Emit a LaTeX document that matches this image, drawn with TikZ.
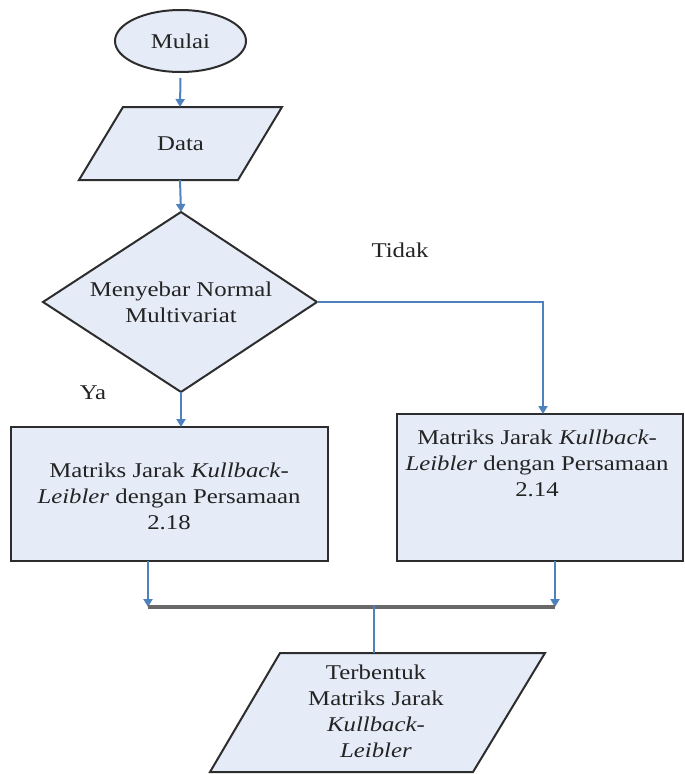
\documentclass[tikz,border=0pt]{standalone}
\usepackage{fontspec}
\setmainfont{Liberation Serif}[FakeStretch=1.18]
\usetikzlibrary{arrows.meta,shapes.geometric}
\definecolor{fillc}{RGB}{229,235,247}
\definecolor{arrowc}{RGB}{79,129,189}
\definecolor{edgec}{RGB}{45,45,45}
\definecolor{joinc}{RGB}{105,105,105}
\definecolor{textc}{RGB}{35,35,35}
\begin{document}
\begin{tikzpicture}[x=1pt,y=-1pt,
  shapebox/.style={draw=edgec, fill=fillc, line width=2pt, line join=miter},
  txt/.style={font=\fontsize{21}{26}\selectfont, text=textc, align=center, inner sep=0pt},
  flow/.style={draw=arrowc, line width=2pt, -{Triangle[length=8pt,width=9pt]}},
  plainflow/.style={draw=arrowc, line width=2pt},
  joinline/.style={draw=joinc, line width=4pt}]
\useasboundingbox (0,0) rectangle (685,774);

% Start
\node[ellipse, shapebox, minimum width=131pt, minimum height=62pt, inner sep=0pt, txt] (mulai) at (180.5,41) {Mulai};

% Data parallelogram
\draw[shapebox] (123,107) -- (282,107) -- (238,180) -- (79,180) -- cycle;
\node[txt] (data) at (180.5,143.5) {Data};
\coordinate (dataN) at (180,107);
\coordinate (dataS) at (180,180);

% Decision diamond
\draw[shapebox] (181,212) -- (317,302) -- (181,392) -- (43,302) -- cycle;
\node[txt] (cek) at (181,302) {Menyebar Normal\\Multivariat};
\coordinate (cekN) at (181,212);
\coordinate (cekS) at (181,392);
\coordinate (cekE) at (317,302);

% Boxes
\draw[shapebox] (11,427) rectangle (328,561);
\node[txt] (kiri) at (169,496) {Matriks Jarak \textit{Kullback-}\\\textit{Leibler} dengan Persamaan\\2.18};
\draw[shapebox] (397,414) rectangle (683,561);
\node[txt] (kanan) at (537,463) {Matriks Jarak \textit{Kullback-}\\\textit{Leibler} dengan Persamaan\\2.14};
\coordinate (kiriN) at (181,427);
\coordinate (kiriS) at (148,561);
\coordinate (kananN) at (543,414);
\coordinate (kananS) at (555,561);

% Output parallelogram
\draw[shapebox] (280,653) -- (545,653) -- (473,772) -- (210,772) -- cycle;
\node[txt] (hasil) at (376,711) {Terbentuk\\Matriks Jarak\\\textit{Kullback-}\\\textit{Leibler}};
\coordinate (hasilN) at (374,653);

% Junction
\coordinate (jL) at (148,607);
\coordinate (jR) at (555,607);
\coordinate (jM) at (374,607);

% Labels
\node[txt] (tidak) at (400,250) {Tidak};
\node[txt] (ya) at (93,393) {Ya};

% Connectors
\draw[flow] ([yshift=-5pt]mulai.south) -- (dataN);
\draw[flow] (dataS) -- (cekN);
\draw[flow] (cekS) -- (kiriN);
\draw[flow] (cekE) -- (cekE -| kananN) -- (kananN);
\draw[flow] (kiriS) -- (jL);
\draw[flow] (kananS) -- (jR);
\draw[joinline] (jL) -- (jR);
\draw[plainflow] ([yshift=2pt]jM) -- (hasilN);
\end{tikzpicture}
\end{document}
